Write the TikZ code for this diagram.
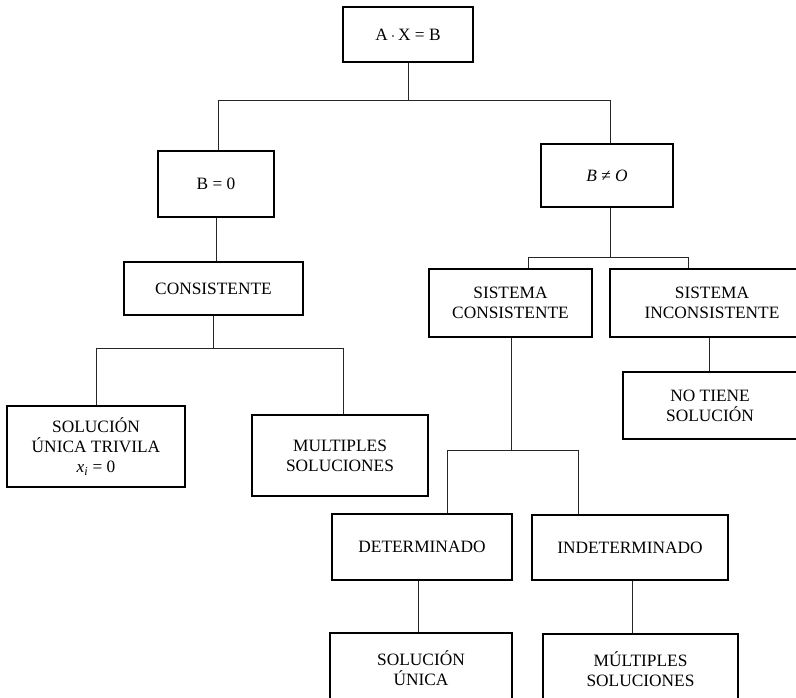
\documentclass[tikz,border=0pt]{standalone}
\usepackage{fontspec}
\setmainfont{Liberation Serif}
\usetikzlibrary{calc}

\begin{document}
\begin{tikzpicture}[x=0.75pt, y=-0.75pt,
    caja/.style 2 args={draw, line width=1pt, align=center, inner sep=0pt,
        minimum width=#1*0.75pt, minimum height=#2*0.75pt},
    rama/.style={line width=0.75pt, black!85},
    every node/.style={font=\fontsize{13}{15.2}\selectfont}]
    \useasboundingbox (0,0) rectangle (796,698);
    \clip (0,0) rectangle (796,698);

    % sistema
    \node[caja={130}{55}] (sist) at (408,34.5) {A\,$\cdot$\,X = B};

    % homogeneo
    \node[caja={116}{66}] (bcero) at (216,184) {B = 0};
    \node[caja={179}{53}] (cons) at (213.5,288.5) {CONSISTENTE};
    \node[caja={178}{81}] (trivial) at (96,446.5)
        {SOLUCIÓN\\ÚNICA TRIVILA\\\textit{x}\textsubscript{\textit{i}} = 0};
    \node[caja={176}{81}] (multi) at (340,455.5) {MULTIPLES\\SOLUCIONES};

    % no homogeneo
    \node[caja={132}{63}] (bnocero) at (607,175.5) {\textit{B} ≠ \textit{O}};
    \node[caja={163}{68}] (scons) at (510.5,303) {SISTEMA\\CONSISTENTE};
    \node[caja={204}{68}] (sincons) at (712,303) {SISTEMA\\INCONSISTENTE};
    \node[caja={174}{67}] (notiene) at (710,405.5) {NO TIENE\\SOLUCIÓN};
    \node[caja={180}{66}] (det) at (422,547) {DETERMINADO};
    \node[caja={196}{65}] (indet) at (630,547.5) {INDETERMINADO};
    \node[caja={182}{70}] (unica) at (421,668) {SOLUCIÓN\\ÚNICA};
    \node[caja={195}{70}] (multiples) at (640.5,669) {MÚLTIPLES\\SOLUCIONES};

    % ramas
    \path (sist.south) ++(0,38) coordinate (r1);
    \draw[rama] (sist.south) -- (r1) -| ($(bcero.north)+(2,0)$);
    \draw[rama] (r1) -| ($(bnocero.north)+(3,0)$);

    \draw[rama] (bcero.south) -- (bcero.south |- cons.north);

    \path (cons.south) ++(0,33) coordinate (r2);
    \draw[rama] (cons.south) -- (r2) -| (trivial.north);
    \draw[rama] (r2) -| ($(multi.north)+(3,0)$);

    \path (bnocero.south) ++(3,50) coordinate (r3);
    \draw[rama] ($(bnocero.south)+(3,0)$) -- (r3) -| ($(scons.north)+(17.5,0)$);
    \draw[rama] (r3) -| ($(sincons.north)+(-24,0)$);

    \path (sincons.south) ++(-3,0) coordinate (s1);
    \draw[rama] (s1) -- (s1 |- notiene.north);

    \path (scons.south) ++(0.5,113) coordinate (r4);
    \draw[rama] ($(scons.south)+(0.5,0)$) -- (r4) -| ($(det.north)+(25,0)$);
    \draw[rama] (r4) -| ($(indet.north)+(-52,0)$);

    \path (det.south) ++(-4,0) coordinate (s2);
    \draw[rama] (s2) -- (s2 |- unica.north);
    \path (indet.south) ++(2,0) coordinate (s3);
    \draw[rama] (s3) -- (s3 |- multiples.north);
\end{tikzpicture}
\end{document}
